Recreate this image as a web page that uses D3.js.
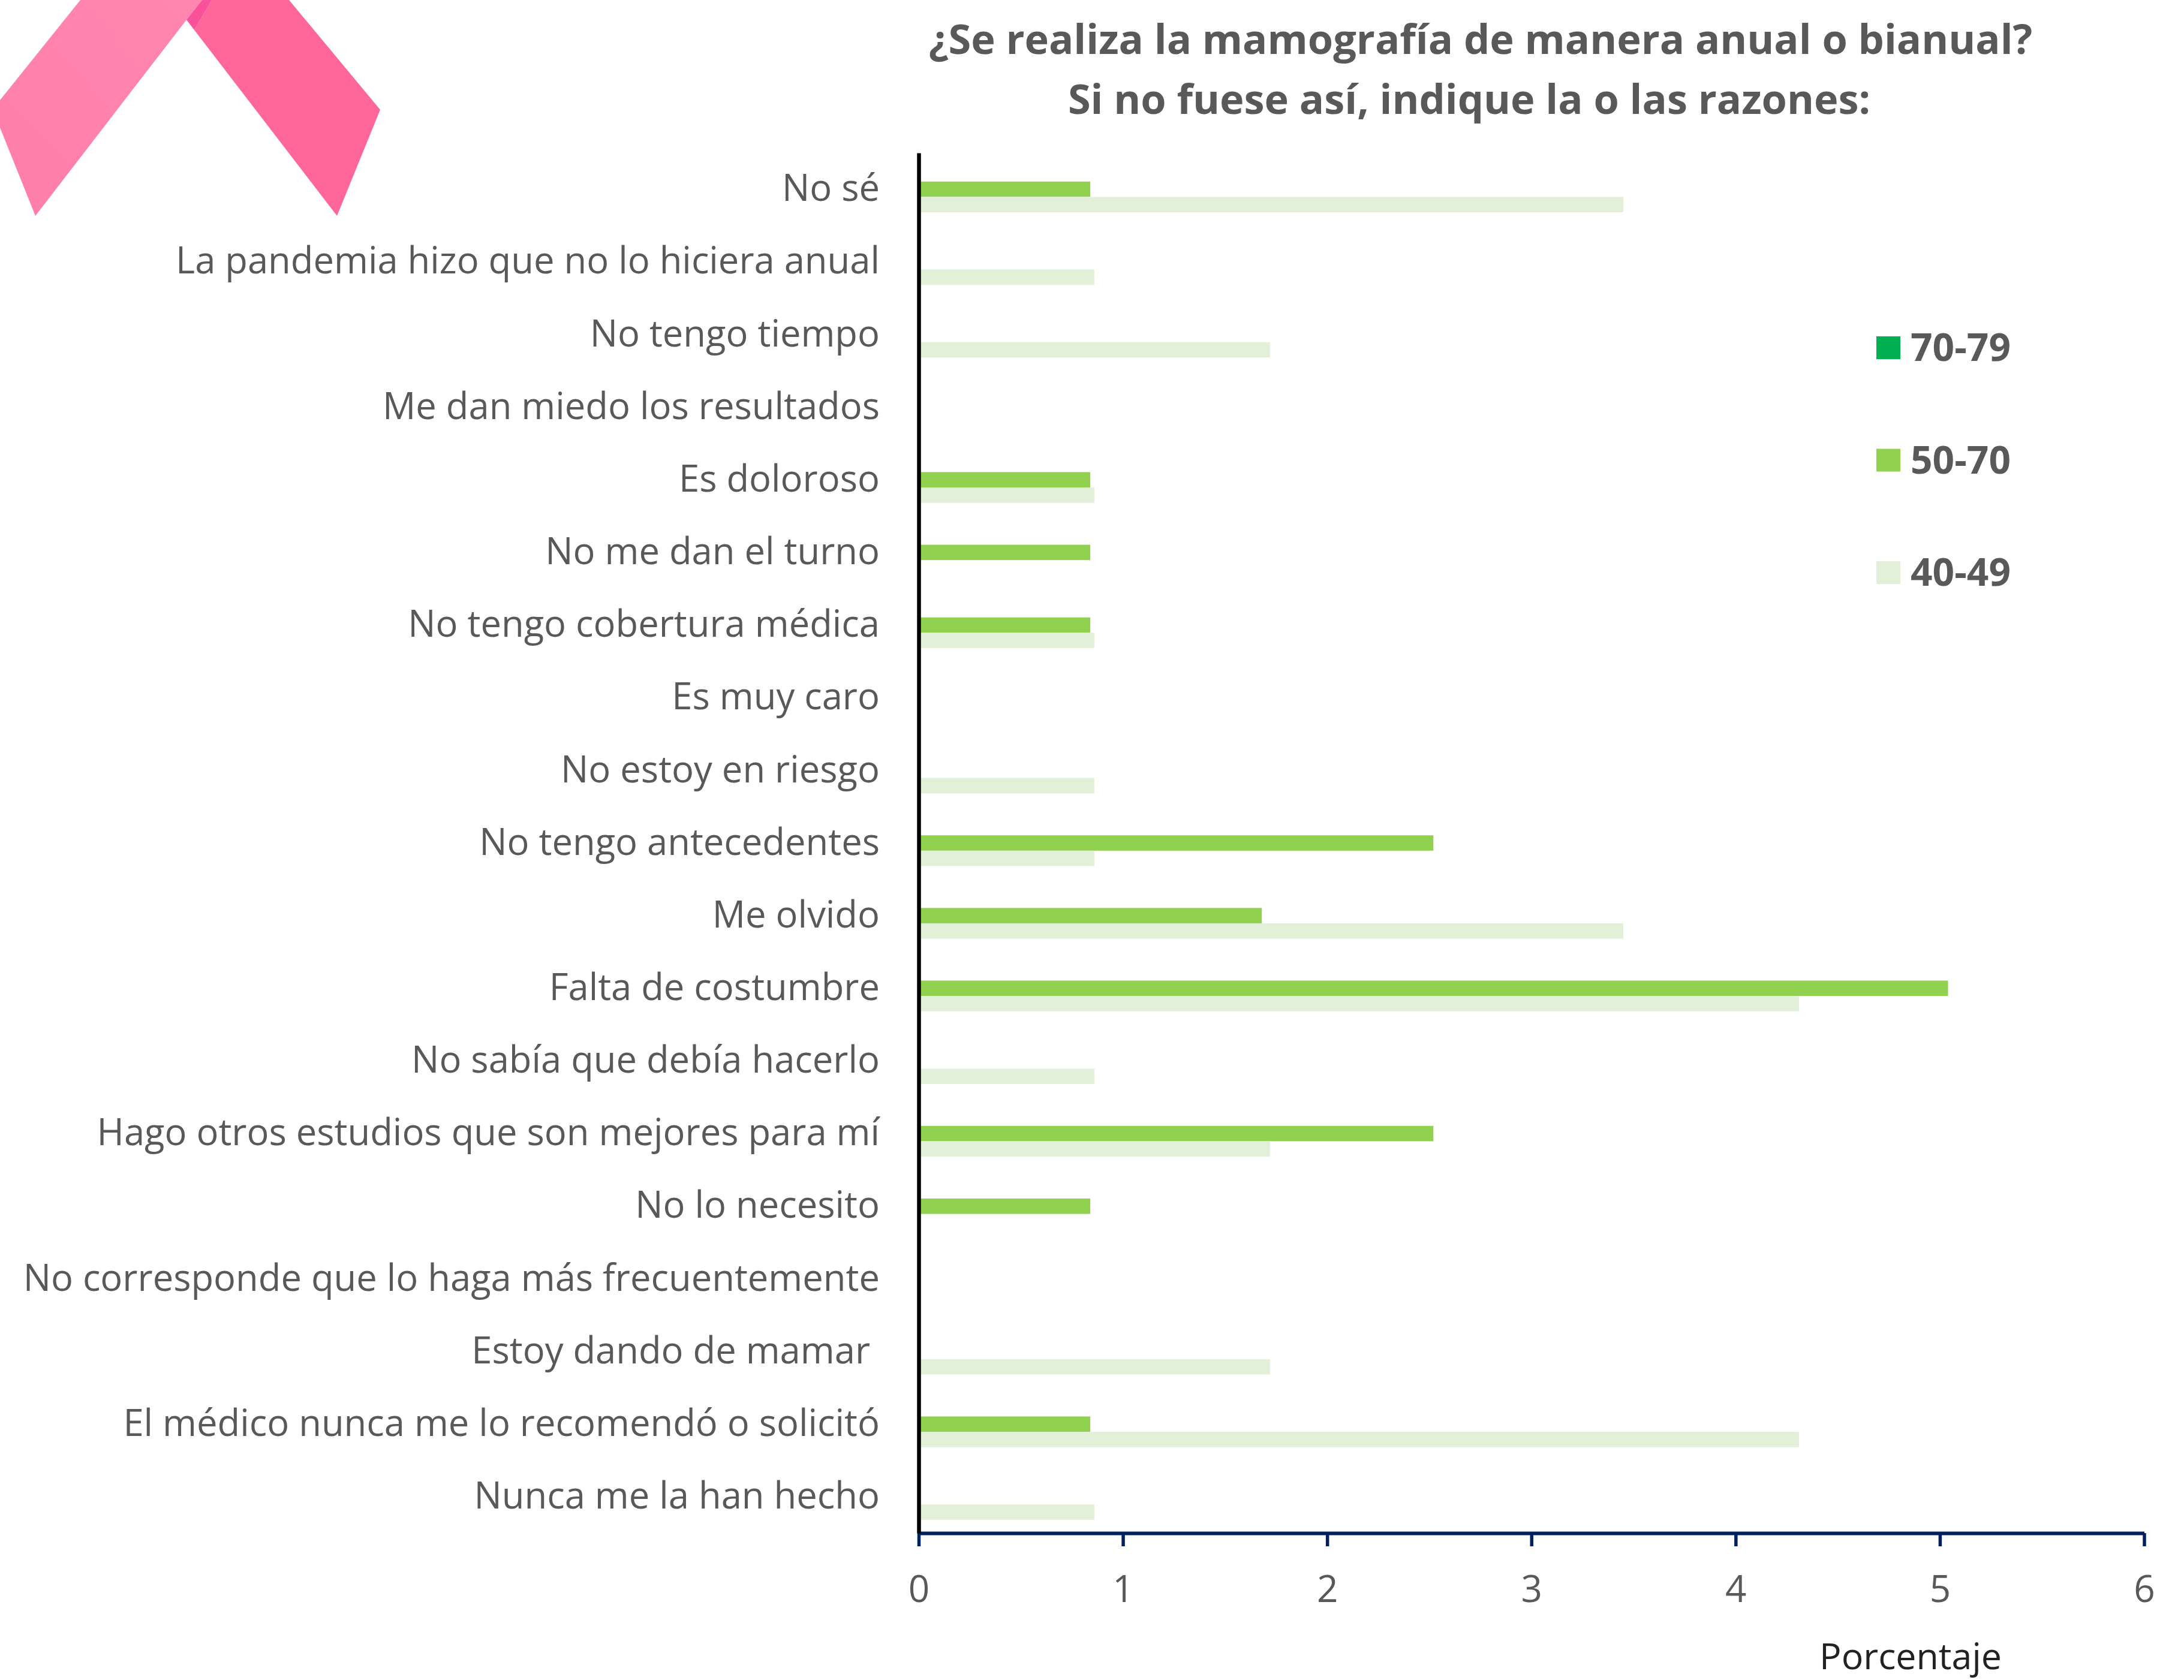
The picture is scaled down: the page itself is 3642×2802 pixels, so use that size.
<!DOCTYPE html>
<html lang="es">
<head>
<meta charset="utf-8">
<title>Mamografía anual o bianual</title>
<script src="https://cdn.jsdelivr.net/npm/d3@7"></script>
<style>
  html, body { margin: 0; padding: 0; background: #fff; }
  svg { display: block; font-family: "Open Sans", sans-serif; }
  .y-axis text { white-space: pre; }
</style>
</head>
<body>
<svg id="chart" width="3642" height="2802"></svg>
<script>
// Survey answers, top to bottom
const categories = [
  "No sé",
  "La pandemia hizo que no lo hiciera anual",
  "No tengo tiempo",
  "Me dan miedo los resultados",
  "Es doloroso",
  "No me dan el turno",
  "No tengo cobertura médica",
  "Es muy caro",
  "No estoy en riesgo",
  "No tengo antecedentes",
  "Me olvido",
  "Falta de costumbre",
  "No sabía que debía hacerlo",
  "Hago otros estudios que son mejores para mí",
  "No lo necesito",
  "No corresponde que lo haga más frecuentemente",
  "Estoy dando de mamar ",
  "El médico nunca me lo recomendó o solicitó",
  "Nunca me la han hecho"
];

// Percentages per age group, in the order of the categories
const seriesNames = ["70-79", "50-70", "40-49"];
const values7079 = [0, 0, 0, 0, 0, 0, 0, 0, 0, 0, 0, 0, 0, 0, 0, 0, 0, 0, 0];
const values5070 = [0.84, 0, 0, 0, 0.84, 0.84, 0.84, 0, 0, 2.52, 1.68, 5.04, 0, 2.52, 0.84, 0, 0, 0.84, 0];
const values4049 = [3.45, 0.86, 1.72, 0, 0.86, 0, 0.86, 0, 0.86, 0.86, 3.45, 4.31, 0.86, 1.72, 0, 0, 1.72, 4.31, 0.86];
const seriesValues = [values7079, values5070, values4049];
const seriesColors = ["#00B050", "#92D050", "#E2F0D9"];
const xTicks = [0, 1, 2, 3, 4, 5, 6];

const titleLines = [
  "¿Se realiza la mamografía de manera anual o bianual?",
  "Si no fuese así, indique la o las razones:"
];

const plot = { left: 1532, right: 3575.5, top: 255, bottom: 2557 };
const textGrey = "#595959";

const svg = d3.select("#chart");

// Pink ribbon decoration in the top-left corner
const defs = svg.append("defs");
const leftGrad = defs.append("linearGradient").attr("id", "ribbonLeft")
  .attr("x1", "1").attr("y1", "0").attr("x2", "0").attr("y2", "1");
leftGrad.append("stop").attr("offset", "0").attr("stop-color", "#FF86B0");
leftGrad.append("stop").attr("offset", "1").attr("stop-color", "#FF7FA9");

const ribbon = svg.append("g");
ribbon.append("polygon").attr("points", "134,0 337,0 311,33 59,360 0,213 0,167").attr("fill", "url(#ribbonLeft)");
ribbon.append("polygon").attr("points", "353,0 482,0 634,183 562,360 324,50").attr("fill", "#FF6699");
ribbon.append("polygon").attr("points", "337,0 353,0 324,50 311,33").attr("fill", "#F9529B");

// Scales
const x = d3.scaleLinear().domain([0, 6]).range([plot.left, plot.right]);
const y = d3.scaleBand().domain(categories).range([plot.top, plot.bottom])
  .paddingInner(0.366).paddingOuter(0.183);
const yInner = d3.scaleBand().domain(seriesNames).range([0, y.bandwidth()]);

// Bars, one group per age range
const rows = seriesNames.map((name, s) => ({
  name,
  color: seriesColors[s],
  points: categories.map((c, i) => ({ category: c, value: seriesValues[s][i] }))
}));

svg.append("g").selectAll("g").data(rows).join("g")
  .attr("fill", d => d.color)
  .selectAll("rect")
  .data(d => d.points.filter(p => p.value > 0).map(p => ({ ...p, series: d.name })))
  .join("rect")
  .attr("x", x(0))
  .attr("y", d => y(d.category) + yInner(d.series))
  .attr("width", d => x(d.value) - x(0))
  .attr("height", yInner.bandwidth());

// Horizontal axis
const xAxis = svg.append("g")
  .attr("transform", `translate(0,${plot.bottom})`)
  .call(d3.axisBottom(x).tickValues(xTicks).tickFormat(d3.format("d")).tickSizeInner(22).tickSizeOuter(0).tickPadding(49));
xAxis.select(".domain").attr("stroke", "#002060").attr("stroke-width", 6);
xAxis.selectAll(".tick line").attr("stroke", "#002060").attr("stroke-width", 5.5);
xAxis.selectAll("text").attr("fill", textGrey).attr("font-size", 62).attr("font-family", '"Open Sans", sans-serif');

// Vertical axis with the answer labels
const yAxis = svg.append("g").attr("class", "y-axis")
  .attr("transform", `translate(${plot.left},0)`)
  .call(d3.axisLeft(y).tickSize(0).tickPadding(65));
yAxis.select(".domain").attr("stroke", "#000").attr("stroke-width", 6.5);
yAxis.selectAll("text").attr("fill", textGrey).attr("font-size", 61.5).attr("font-family", '"Open Sans", sans-serif');

// Title, each line centred on its own axis
const titleCentres = [2469, 2450];
svg.append("g").selectAll("text").data(titleLines).join("text")
  .attr("x", (d, i) => titleCentres[i])
  .attr("y", (d, i) => 90 + i * 100)
  .attr("text-anchor", "middle")
  .attr("font-size", 68.5)
  .attr("font-weight", 700)
  .attr("fill", textGrey)
  .text(d => d);

// Axis caption
svg.append("text")
  .attr("x", 3034).attr("y", 2784)
  .attr("font-size", 60)
  .attr("textLength", 304)
  .attr("lengthAdjust", "spacingAndGlyphs")
  .attr("fill", "#222")
  .text("Porcentaje");

// Legend
const legendY = d3.scalePoint().domain(seriesNames).range([580, 955]);
const legend = svg.append("g").selectAll("g").data(rows).join("g")
  .attr("transform", d => `translate(3129,${legendY(d.name)})`);
legend.append("rect").attr("x", 0).attr("y", -19).attr("width", 40).attr("height", 38).attr("fill", d => d.color);
legend.append("text").attr("x", 57).attr("y", 22)
  .attr("font-size", 64).attr("font-weight", 700).attr("fill", textGrey)
  .text(d => d.name);
</script>
</body>
</html>
